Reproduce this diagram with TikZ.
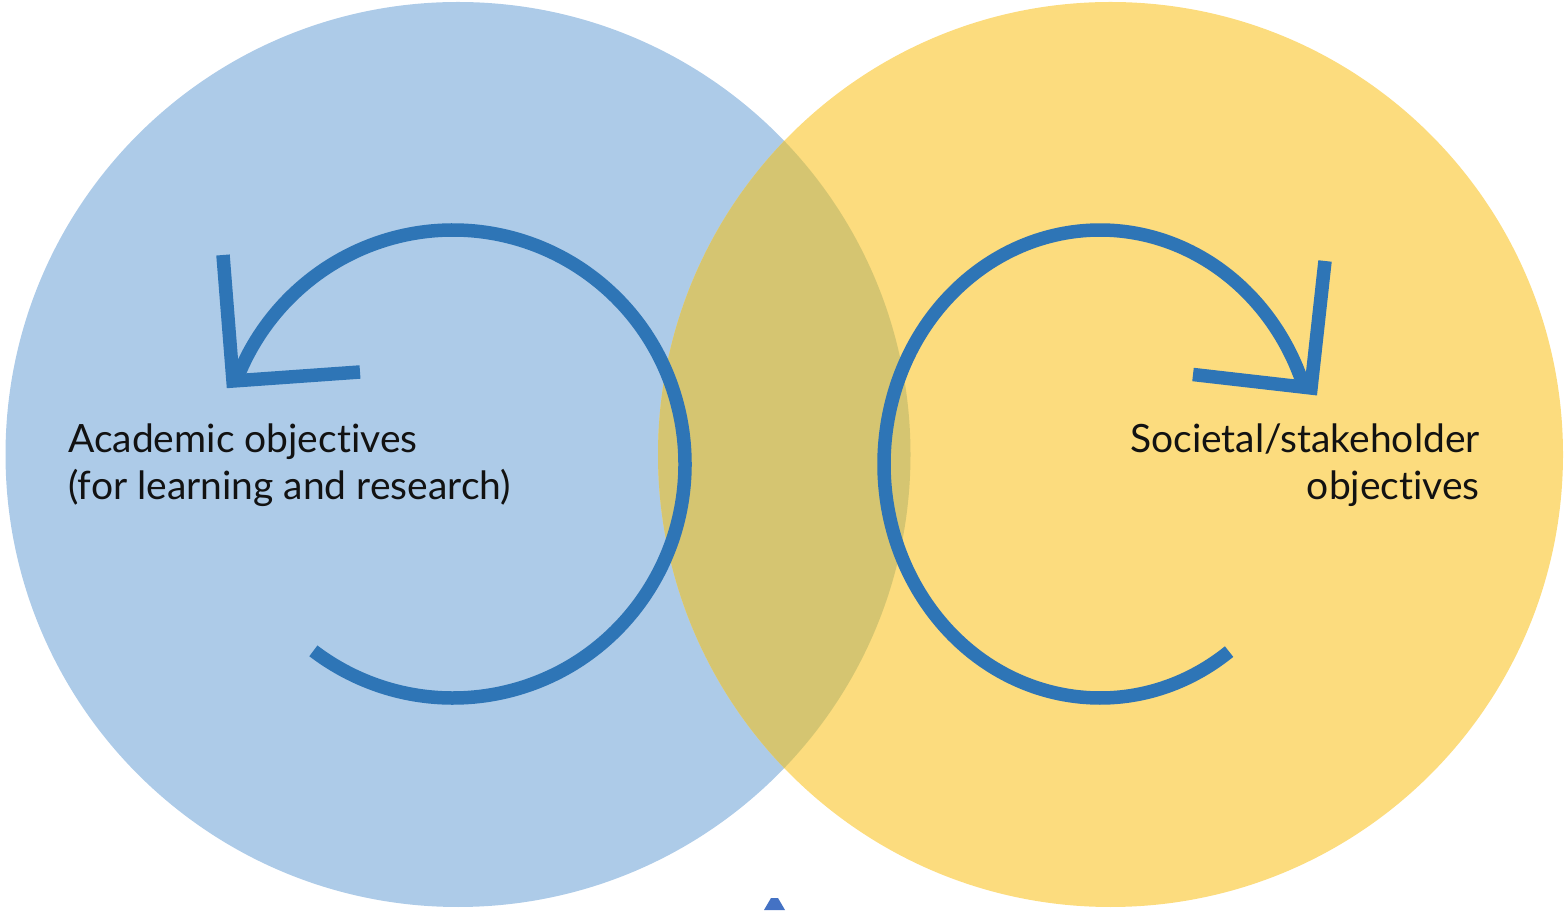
\documentclass[tikz,border=0pt]{standalone}
\usepackage{fontspec}
\setmainfont{Lato}[Ligatures={NoCommon}]
\usetikzlibrary{calc}
\definecolor{acadblue}{HTML}{ADCBE8}
\definecolor{socyellow}{HTML}{FCDC7E}
\definecolor{overlapol}{HTML}{D5C571}
\definecolor{cyclestroke}{HTML}{2E75B6}
\definecolor{tipblue}{HTML}{4472C4}
\begin{document}
\begin{tikzpicture}[x=1pt,y=1pt,
  cyclearc/.style={draw=cyclestroke, line width=13.5pt, line cap=butt},
  cyclehead/.style={draw=cyclestroke, line width=13.5pt, line cap=butt, line join=miter},
  objlabel/.style={inner sep=0pt, font=\fontsize{39}{47}\selectfont, text=black!93}]
\useasboundingbox (0,0) rectangle (1565,910);

% two overlapping circles
\coordinate (lc) at (458,455.5);
\coordinate (rc) at (1110.5,455.5);
\fill[acadblue] (lc) circle[radius=452.5];
\fill[socyellow] (rc) circle[radius=452.5];
\begin{scope}
  \clip (lc) circle[radius=452.5];
  \fill[overlapol] (rc) circle[radius=452.5];
\end{scope}

% left cycle (counter-clockwise)
\coordinate (la) at (453,446);
\draw[cyclearc] ($(la)+(-127:232 and 234)$) arc[start angle=-127, end angle=158, x radius=232, y radius=234];
\coordinate (lh1) at (223,655);
\coordinate (lh2) at (233,529);
\coordinate (lh3) at (360,538);
\draw[cyclehead] (lh1) -- (lh2) -- (lh3);

% right cycle (clockwise)
\coordinate (ra) at (1100,446);
\draw[cyclearc] ($(ra)+(-53.3:216 and 234)$) arc[start angle=-53.3, end angle=-340, x radius=216, y radius=234];
\coordinate (rh1) at (1325,649);
\coordinate (rh2) at (1311,522);
\coordinate (rh3) at (1193,535.5);
\draw[cyclehead] (rh1) -- (rh2) -- (rh3);

% labels (anchored on the baseline of the second line)
\node[objlabel, anchor=base west, align=left] (acad) at (68,410) {Academic objectives\\(for learning and research)};
\node[objlabel, anchor=base east, align=right] (soc) at (1480,410) {Societal/stakeholder\\objectives};

% small tip at the bottom edge
\fill[tipblue] (764,0) -- (771,12) -- (778,12) -- (785,0) -- cycle;
\end{tikzpicture}
\end{document}
